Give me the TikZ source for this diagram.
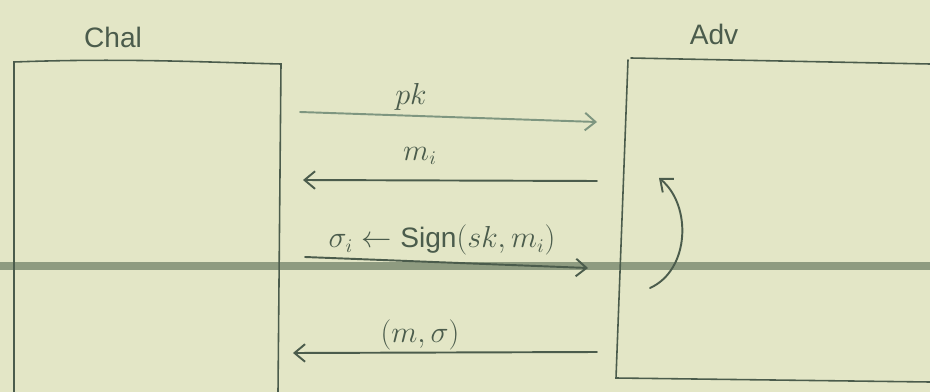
\documentclass[tikz,border=0pt]{standalone}
\usepackage{fontspec}
\setmainfont{Liberation Sans}
\usetikzlibrary{arrows.meta}
\definecolor{paper}{HTML}{E3E6C6}
\definecolor{ink}{HTML}{4B5C4C}
\definecolor{lightink}{HTML}{7E9680}
\definecolor{rule}{HTML}{8E9B80}
\begin{document}
\begin{tikzpicture}[x=0.02cm, y=-0.02cm,
		ink/.style={draw=ink, line width=1.1pt, line cap=round},
		msg/.style={ink, -{Straight Barb[length=6pt, width=10pt]}},
		lbl/.style={text=ink, font=\fontsize{16}{19}\selectfont, inner sep=1pt}]
		\fill[paper] (0,0) rectangle (930,392);
		\useasboundingbox (0,0) rectangle (930,392);
		
		% ruled line of the paper
		\draw[rule, line width=4pt] (0,266) -- (930,266);
		
		% boxes
		\draw[ink, line width=0.9pt] (14,392) -- (14,62) .. controls (120,58) and (200,62) .. (281,64) -- (278,392);
		\draw[ink, line width=0.9pt] (628,60) -- (616,378) -- (930,382);
		\draw[ink, line width=0.9pt] (631,58) -- (930,64);
		\node[lbl] (chal) at (113,37) {Chal};
		\node[lbl] (adv) at (714,34) {Adv};
		
		% end points of the messages
		\coordinate (pkA) at (300,112);
		\coordinate (pkB) at (597,122);
		\coordinate (miA) at (597,181);
		\coordinate (miB) at (303,180);
		\coordinate (sgA) at (305,257);
		\coordinate (sgB) at (588,268);
		\coordinate (outA) at (597,352);
		\coordinate (outB) at (293,353);
		\coordinate (loopA) at (650,288);
		\coordinate (loopB) at (659,178);
		
		% messages
		\draw[msg, draw=lightink] (pkA) -- (pkB);
		\node[lbl] (pk) at (411,97) {$pk$};
		\draw[msg] (miA) -- (miB);
		\node[lbl] (mi) at (420,156) {$m_i$};
		\draw[msg] (sgA) -- (sgB);
		\node[lbl] (sig) at (442,240) {$\sigma_i \leftarrow \mathrm{Sign}(sk, m_i)$};
		\draw[msg] (outA) -- (outB);
		\node[lbl] (out) at (420,335) {$(m,\sigma)$};
		
		% loop of the adversary
		\draw[msg] (loopA) .. controls (690,270) and (692,205) .. (loopB);
\end{tikzpicture}
\end{document}
